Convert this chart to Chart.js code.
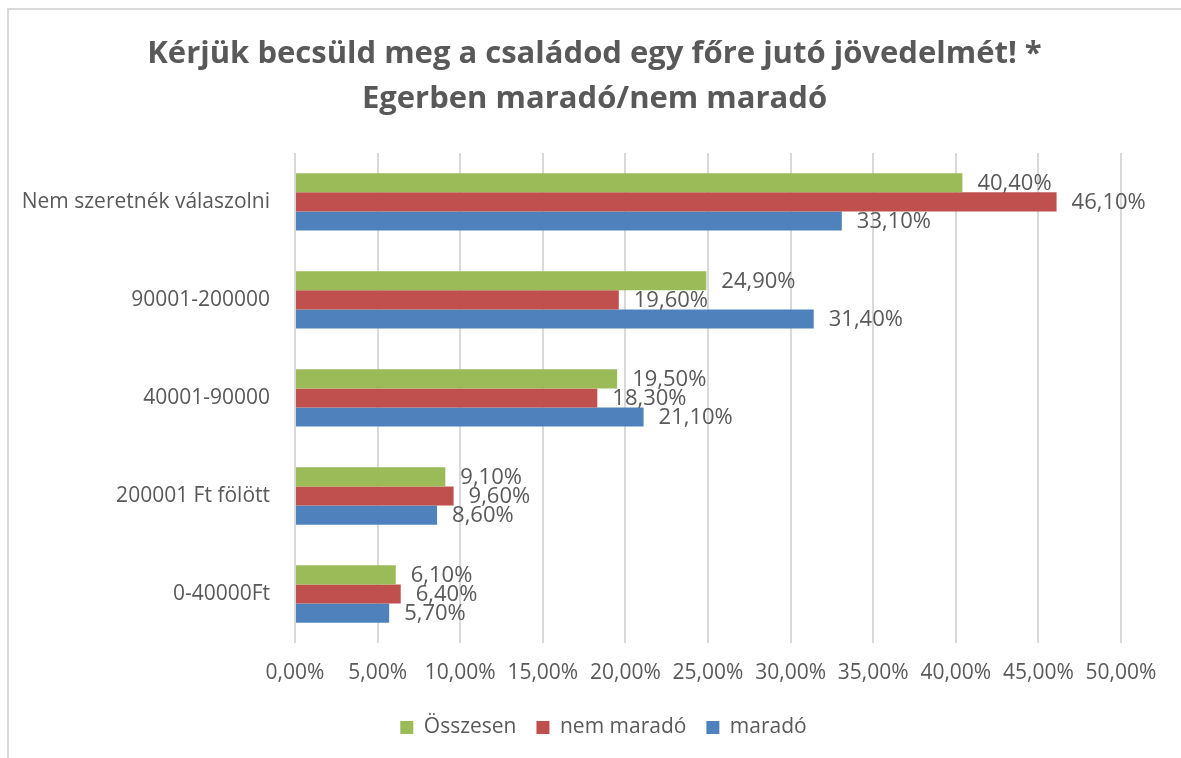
<!DOCTYPE html>
<html>
<head>
<meta charset="utf-8">
<script src="https://cdn.jsdelivr.net/npm/chart.js@4.4.0/dist/chart.umd.min.js"></script>
<style>
  html, body { margin: 0; padding: 0; background: #fff; overflow: hidden; }
  #frame { position: absolute; left: 7px; top: 8px; width: 1300px; height: 900px; border: 2px solid #d9d9d9; box-sizing: border-box; }
  #wrap { position: absolute; left: 0; top: 0; width: 1181px; height: 758px; }
</style>
</head>
<body>
<div id="frame"></div>
<div id="wrap"><canvas id="chart"></canvas></div>
<script>
// adatok
const categories = ["Nem szeretnék válaszolni", "90001-200000", "40001-90000", "200001 Ft fölött", "0-40000Ft"];
const osszesen = [40.4, 24.9, 19.5, 9.1, 6.1];
const nemMarado = [46.1, 19.6, 18.3, 9.6, 6.4];
const marado = [33.1, 31.4, 21.1, 8.6, 5.7];
const xTicks = [0, 5, 10, 15, 20, 25, 30, 35, 40, 45, 50];

const fmt = v => v.toFixed(2).replace('.', ',') + '%';
const FONT = "'Open Sans', sans-serif";

// ertek feliratok a sav vegen
const valueLabels = {
    id: 'valueLabels',
    afterDatasetsDraw(chart) {
        const ctx = chart.ctx;
        ctx.save();
        ctx.font = "22px " + FONT;
        ctx.fillStyle = "#595959";
        ctx.textAlign = "left";
        ctx.textBaseline = "middle";
        chart.data.datasets.forEach((ds, i) => {
            chart.getDatasetMeta(i).data.forEach((bar, j) => {
                ctx.fillText(fmt(ds.data[j]), bar.x + 15, bar.y + 1);
            });
        });
        ctx.restore();
    }
};

// cim es jelmagyarazat kozepre tolasa (az egesz kephez, nem a rajzterulethez)
const recenter = {
    id: 'recenter',
    afterLayout(chart) {
        const shift = (box, dx) => { if (box) { box.left += dx; box.right += dx; } };
        shift(chart.titleBlock, 29);
        shift(chart.legend, 38);
    }
};

new Chart(document.getElementById("chart"), {
    type: "bar",
    data: {
        labels: categories,
        datasets: [
            { label: "Összesen", data: osszesen, backgroundColor: "#9bbb59" },
            { label: "nem maradó", data: nemMarado, backgroundColor: "#c0504d" },
            { label: "maradó", data: marado, backgroundColor: "#4f81bd" }
        ]
    },
    options: {
        indexAxis: "y",
        responsive: true,
        maintainAspectRatio: false,
        animation: false,
        categoryPercentage: 0.585,
        barPercentage: 1,
        layout: { padding: { left: 10, right: 60, top: 0, bottom: 10 } },
        plugins: {
            title: {
                display: true,
                text: ["Kérjük becsüld meg a családod egy főre jutó jövedelmét! *", "Egerben maradó/nem maradó"],
                color: "#595959",
                font: { family: FONT, size: 31, weight: "bold", lineHeight: 1.45 },
                padding: { top: 32, bottom: 31 }
            },
            legend: {
                position: "bottom",
                labels: {
                    color: "#595959",
                    font: { family: FONT, size: 21 },
                    boxWidth: 13,
                    boxHeight: 13,
                    padding: 20
                }
            },
            tooltip: { enabled: false }
        },
        scales: {
            x: {
                min: 0,
                max: 50,
                afterBuildTicks: scale => { scale.ticks = xTicks.map(v => ({ value: v })); },
                afterFit: scale => { scale.height = 54; },
                grid: { color: "#d9d9d9", lineWidth: 2, drawTicks: false },
                border: { display: false },
                ticks: {
                    color: "#595959",
                    font: { family: FONT, size: 21 },
                    padding: 17,
                    maxRotation: 0,
                    callback: v => fmt(v)
                }
            },
            y: {
                afterFit: scale => { scale.width = 285; },
                grid: { display: false },
                border: { display: false },
                ticks: {
                    color: "#595959",
                    font: { family: FONT, size: 21 },
                    padding: 17
                }
            }
        }
    },
    plugins: [valueLabels, recenter]
});
</script>
</body>
</html>
